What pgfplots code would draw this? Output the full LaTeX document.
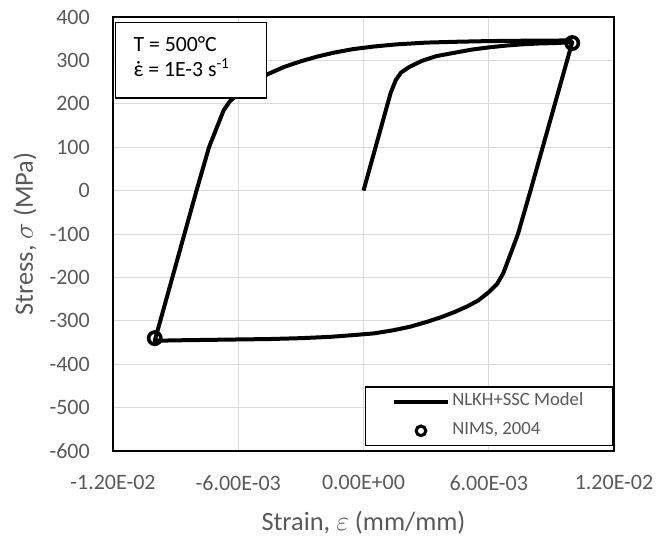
\documentclass[border=0pt]{standalone}
\usepackage{pgfplots}
\pgfplotsset{compat=1.18}
\usepackage{fontspec}
\setmainfont{Carlito}
\definecolor{txt}{HTML}{595959}
\definecolor{grd}{HTML}{D9D9D9}
\pgfplotsset{
 lineleg/.style={legend image code/.code={\draw[##1] (0pt,0pt) -- (40.5pt,0pt);}},
 markleg/.style={legend image code/.code={\draw[##1, mark size=3.6pt, line width=2.3pt] plot coordinates {(20.25pt,0pt)};}},
}
\pgfplotstableread{
x y
0 0
0.0013 225
0.00155 255
0.0018 272
0.0022 285
0.0028 299
0.0035 310
0.0044 318
0.0052 325
0.0060 330
0.0068 334
0.0076 337
0.0084 339
0.0092 340
0.0100 342
0.0080 0
0.0074 -100
0.0067 -190
0.0064 -215
0.0060 -234
0.0055 -253
0.0050 -266
0.0044 -279
0.0037 -292
0.0030 -303
0.0022 -314
0.0014 -322
0.0005 -329
-0.0005 -333
-0.0016 -337
-0.0030 -340
-0.0045 -342
-0.0060 -343
-0.0075 -344
-0.0090 -345
-0.0100 -346
-0.0080 0
-0.0074 100
-0.0067 185
-0.0064 206
-0.0060 222
-0.0055 240
-0.0046 268
-0.0038 285
-0.0030 298
-0.0022 309
-0.0014 318
-0.0005 326
0.0005 332
0.0016 337
0.0030 341
0.0045 343
0.0060 344.5
0.0080 345.5
0.0100 346
}\model
\pgfplotstableread{
x y
0.0100 340
-0.0100 -340
}\nims
\begin{document}
\begin{tikzpicture}
\begin{axis}[
 name=ax,
 scale only axis, width=375.75pt, height=325.5pt,
 xmin=-0.012, xmax=0.012, ymin=-600, ymax=400,
 xtick={-0.012,-0.006,0,0.006,0.012},
 xticklabels={-1.20E-02,-6.00E-03,0.00E+00,6.00E-03,1.20E-02},
 ytick={-600,-500,-400,-300,-200,-100,0,100,200,300,400},
 yticklabels={-600,-500,-400,-300,-200,-100,0,100,200,300,400},
 scaled x ticks=false,
 grid=major, major grid style={grd, line width=0.75pt},
 axis line style={black, line width=0.8pt},
 tick style={draw=none},
 every tick label/.append style={inner sep=0pt},
 tick label style={font=\fontsize{16.5}{20}\selectfont, text=txt},
 yticklabel style={anchor=east, xshift=-17.25pt},
 xticklabel style={anchor=north, yshift=-18pt},
 label style={font=\fontsize{19.8}{24}\selectfont, text=txt},
 xlabel={Strain, $\varepsilon$ (mm/mm)},
 ylabel={Stress, $\sigma$ (MPa)},
 xlabel style={at={(axis description cs:0.5,-0.182)}, anchor=base},
 ylabel style={at={(axis description cs:-0.1597,0.5)}, anchor=base},
 legend cell align=left,
 legend style={at={(rel axis cs:0.998,0.0115)}, anchor=south east,
   draw=black, line width=1pt, fill=white,
   font=\fontsize{14}{16}\selectfont,
   inner xsep=20pt, inner ysep=4.4pt, row sep=8.9pt,
   nodes={inner sep=1.75pt, text depth=0.2em, text height=0.75em, text=txt}},
]
\addplot[black, line width=3pt, line join=round, lineleg]
  table[x=x,y=y]{\model};
\addlegendentry{NLKH+SSC Model}
\addplot[only marks, black, mark=o, mark size=4.6pt, line width=2.7pt, markleg]
  table[x=x,y=y]{\nims};
\addlegendentry{NIMS, 2004}
\node[draw=black, line width=1pt, fill=white, anchor=north west, inner sep=0pt,
  minimum width=113pt, minimum height=56.7pt] (box) at (rel axis cs:0.004,0.989) {};
\node[anchor=base west, inner sep=0pt, font=\fontsize{16.3}{20}\selectfont]
  at ([xshift=13.7pt, yshift=-22.5pt]box.north west) {T = 500°C};
\node[anchor=base west, inner sep=0pt, font=\fontsize{16.3}{20}\selectfont]
  at ([xshift=13.7pt, yshift=-41.25pt]box.north west) {\ooalign{ε\cr\hidewidth ˙\hidewidth\cr} = 1E-3 s\textsuperscript{-1}};
\end{axis}
\pgfresetboundingbox
\path[use as bounding box] ([shift={(-84.75pt,-66pt)}]ax.south west) rectangle ([shift={(35.25pt,12.75pt)}]ax.north east);
\end{tikzpicture}
\end{document}
